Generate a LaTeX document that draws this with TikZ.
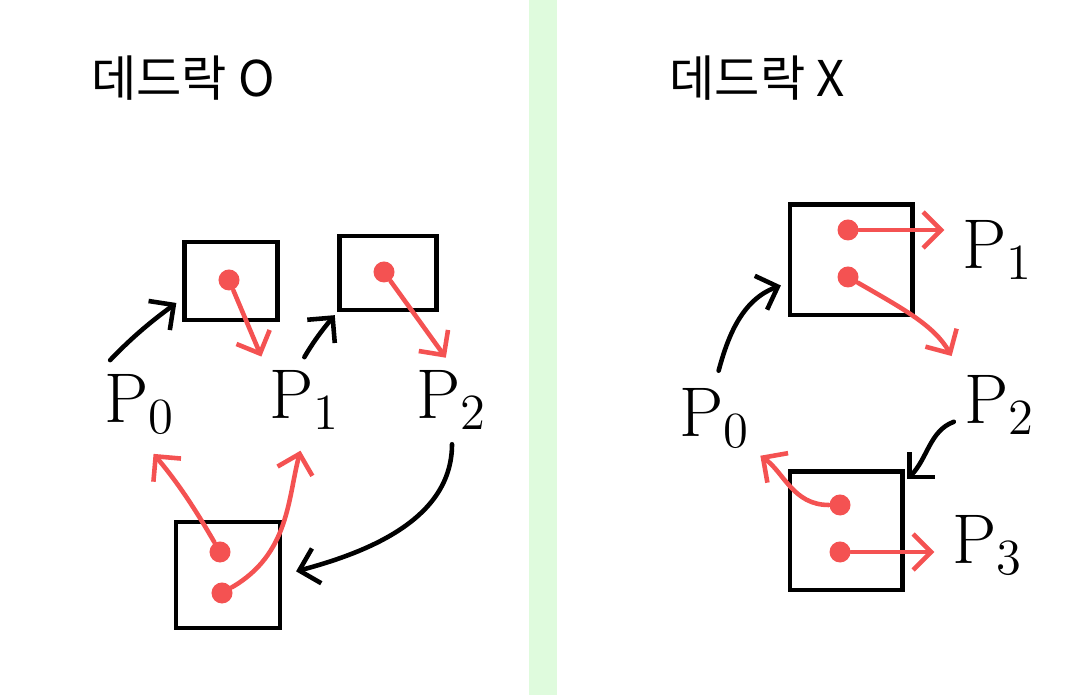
\documentclass[tikz,border=0pt]{standalone}
\usepackage{fontspec}
\newfontfamily\kofont{Noto Sans CJK KR}
\usetikzlibrary{arrows.meta}
\definecolor{lockred}{HTML}{F45252}
\definecolor{barGreen}{HTML}{DFFBDD}
\tikzset{
  box/.style={draw,line width=1.4pt,minimum width=#1},
  box/.default=1cm,
  dot/.style={circle,fill=lockred,inner sep=0pt,minimum size=0.21cm},
  proc/.style={font=\fontsize{20}{22}\selectfont,inner sep=1pt},
  title/.style={font=\kofont\fontsize{14}{16}\selectfont},
  hold/.style={line width=1.3pt,line cap=round,-{Straight Barb[length=1.8mm,width=3.6mm]}},
  own/.style={hold,draw=lockred}
}
\begin{document}
\begin{tikzpicture}[x=0.01cm,y=-0.01cm]
  \useasboundingbox(0,0) rectangle(1091,695);
  \fill[barGreen](529,0) rectangle(557,695);
  % left : deadlock
  \node[title] (tl) at(183,78){데드락 O};
  \node[box=0.93cm,minimum height=0.78cm] (ra) at(231,281){};
  \node[box=0.97cm,minimum height=0.74cm] (rb) at(388,273){};
  \node[box=1.04cm,minimum height=1.06cm] (rc) at(228,575){};
  \node[dot] (da) at(229,280){};
  \node[dot] (db) at(384,272){};
  \node[dot] (dc1) at(220,552){};
  \node[dot] (dc2) at(222,593){};
  \node[proc] (p0) at(140,404){$\mathrm{P}_0$};
  \node[proc] (p1) at(305,400){$\mathrm{P}_1$};
  \node[proc] (p2) at(452,400){$\mathrm{P}_2$};
  \draw[hold,shorten <=4pt,shorten >=2pt](p0.north west) to[bend left=5](ra.200);
  \draw[hold,shorten <=3pt,shorten >=1pt](p1.100) to[bend left=5](rb.south west);
  \draw[own,shorten >=3pt](da) -- (p1.north west);
  \draw[own,shorten >=3pt](db) -- (p2.north);
  \draw[own,shorten >=6pt](dc1) to[out=120,in=-50](p0.south);
  \draw[own,shorten >=5pt](dc2) to[out=30,in=-105](p1.south);
  \draw[hold,shorten <=3pt,shorten >=4pt](p2.south) to[out=-90,in=15](rc.east);
  % right : no deadlock
  \node[title] (tr) at(757,78){데드락 X};
  \node[box=1.22cm,minimum height=1.10cm] (rd) at(851,260){};
  \node[box=1.12cm,minimum height=1.18cm] (re) at(846,531){};
  \node[dot] (dd1) at(848,230){};
  \node[dot] (dd2) at(848,277){};
  \node[dot] (de1) at(840,505){};
  \node[dot] (de2) at(840,552){};
  \node[proc] (q0) at(715,418){$\mathrm{P}_0$};
  \node[proc] (q1) at(998,250){$\mathrm{P}_1$};
  \node[proc] (q2) at(1000,405){$\mathrm{P}_2$};
  \node[proc] (q3) at(988,545){$\mathrm{P}_3$};
  \draw[own,shorten >=4pt](dd1) -- (dd1 -| q1.west);
  \draw[own,shorten >=5pt](dd2) to[out=-30,in=120](q2.north west);
  \draw[hold,shorten <=4pt,shorten >=2pt](q0.north) to[out=75,in=200](rd.200);
  \draw[hold,shorten <=2pt,shorten >=1pt](q2.200) to[out=200,in=45](re.40);
  \draw[own,shorten >=2pt](de1) to[out=180,in=-35](q0.south east);
  \draw[own,shorten >=4pt](de2) -- (de2 -| q3.west);
\end{tikzpicture}
\end{document}
